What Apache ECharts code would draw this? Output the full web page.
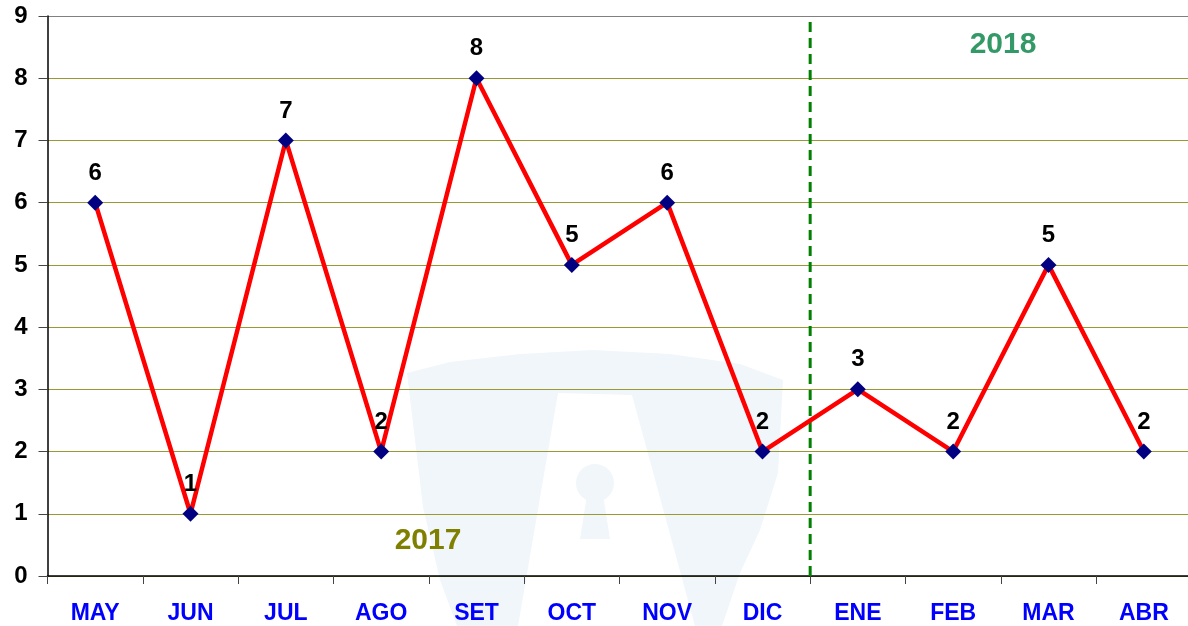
<!DOCTYPE html>
<html><head><meta charset="utf-8">
<script src="https://cdn.jsdelivr.net/npm/echarts@6/dist/echarts.min.js"></script>
<style>html,body{margin:0;padding:0;background:#fff}#c{width:1188px;height:626px}</style>
</head><body><div id="c"></div>
<script>
const categories = ['MAY','JUN','JUL','AGO','SET','OCT','NOV','DIC','ENE','FEB','MAR','ABR'];
const values = [6,1,7,2,8,5,6,2,3,2,5,2];
const yearDivider = [[7.5,0],[7.5,9]];
const yTicks = [0,1,2,3,4,5,6,7,8,9];

const FF = '"Liberation Sans", Arial, sans-serif';
const chart = echarts.init(document.getElementById('c'));
const wm = '#f1f6fa';
chart.setOption({
  animation:false,
  grid:{left:47.5,top:16,width:1144,bottom:50,outerBoundsMode:'none',containLabel:false},
  graphic:[
    {type:'polygon',z:-10,silent:true,shape:{points:[[407,373],[450,362],[520,354],[593,350],[670,354],[740,364],[783,380],[778,473],[760,530],[740,573],[722,626],[457,626],[440,580],[423,507]]},style:{fill:wm}},
    {type:'polygon',z:-9,silent:true,shape:{points:[[558,393],[632,395],[695,626],[518,626]]},style:{fill:'#fff'}},
    {type:'circle',z:-8,silent:true,shape:{cx:595,cy:483,r:19},style:{fill:wm}},
    {type:'polygon',z:-8,silent:true,shape:{points:[[587,495],[603,495],[610,539],[580,539]]},style:{fill:wm}},
    {type:'text',x:428,y:541,style:{text:'2017',fill:'#808000',align:'center',verticalAlign:'middle',font:'bold 30px '+FF}},
    {type:'text',x:1003,y:45,style:{text:'2018',fill:'#339966',align:'center',verticalAlign:'middle',font:'bold 30px '+FF}}
  ],
  xAxis:[{
    type:'category',data:categories,boundaryGap:true,
    axisLine:{lineStyle:{color:'#000',width:1.5}},
    axisTick:{show:true,length:8,lineStyle:{color:'#444'}},
    axisLabel:{margin:26,color:'#0000ff',fontWeight:'bold',fontSize:23,fontFamily:FF},
    splitLine:{show:false}
  },{
    type:'value',min:-0.5,max:11.5,show:false
  }],
  yAxis:{
    type:'value',min:0,max:9,interval:1,
    axisLine:{show:true,onZero:false,lineStyle:{color:'#000',width:1.5}},
    axisTick:{show:true,length:9,lineStyle:{color:'#444'}},
    axisLabel:{margin:20,color:'#000',fontWeight:'bold',fontSize:24,fontFamily:FF,padding:[5,0,0,0],
      formatter:v=>yTicks.includes(v)?String(v):''},
    splitLine:{show:true,lineStyle:{color:['#999933','#999933','#999933','#999933','#999933','#999933','#999933','#999933','#999933','#808080'],width:1.2}}
  },
  series:[{
    type:'line',xAxisIndex:1,data:yearDivider,symbol:'none',z:1,
    lineStyle:{color:'#008000',width:3,type:[10,6]}
  },{
    type:'line',xAxisIndex:0,data:values,z:3,
    symbol:'diamond',symbolSize:16,
    itemStyle:{color:'#000080'},
    lineStyle:{color:'#ff0000',width:4.5},
    label:{show:true,position:'top',distance:9.5,color:'#000',fontWeight:'bold',fontSize:24,fontFamily:FF}
  }]
});
</script></body></html>
